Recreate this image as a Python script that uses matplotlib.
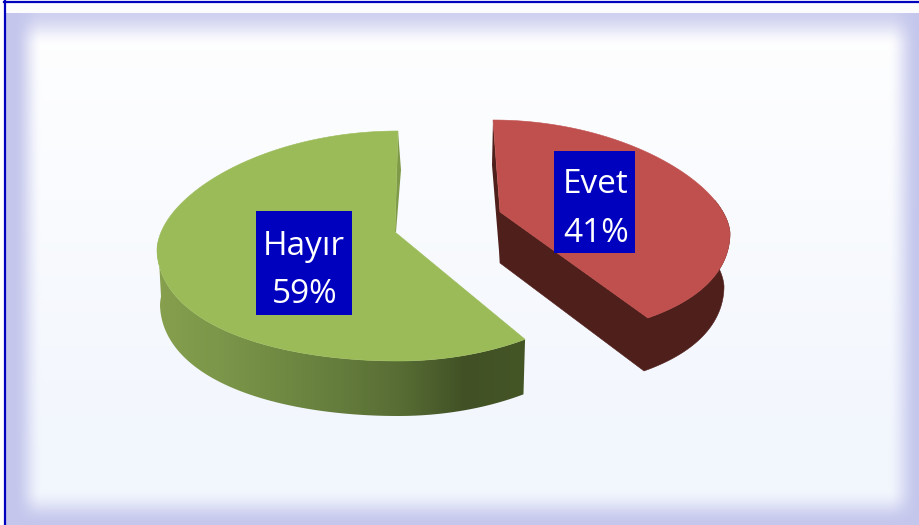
import numpy as np
import matplotlib
matplotlib.use("Agg")
import matplotlib.pyplot as plt
from matplotlib.colors import LinearSegmentedColormap
from matplotlib.patches import Polygon, Rectangle

# ==========================================
# DATA
# ==========================================
categories = ["Evet", "Hayır"]
percent = [41, 59]

# ==========================================
# COLORS
# ==========================================
RED_TOP = "#c0504d"
RED_SIDE = "#4f1f1c"
GREEN_TOP = "#9bbb59"
GREEN_EDGE = "#7e9a48"
LABEL_BLUE = "#0000bf"
green_side = ["#86a04e", "#7c964a", "#708a43", "#647c3c", "#576c34", "#415125", "#445526"]

plt.rcParams["font.family"] = ["Open Sans", "DejaVu Sans"]

fig = plt.figure(figsize=(9.19, 5.25), dpi=100)
ax = fig.add_axes([0, 0, 1, 1])

# ==========================================
# BACKGROUND (soft lavender edge)
# ==========================================
W, H = 919, 525
xx, yy = np.meshgrid(np.arange(W) + 0.5, np.arange(H) + 0.5)


def ramp(v):
    v = np.clip(v, 0, 1)
    return v * v * (3 - 2 * v)


a_left = 1 - ramp((xx - 14) / 28)
a_top = 0.8 * (1 - ramp((yy - 13) / 33))
a_right = ramp((xx - 888) / 31)
a_bottom = ramp((yy - 490) / 35)
alpha = 1 - (1 - a_left) * (1 - a_top) * (1 - a_right) * (1 - a_bottom)

inner = np.zeros((H, W, 3))
inner[..., 0] = 255 - 13 * np.clip(yy / 450, 0, 1)
inner[..., 1] = 255 - 9 * np.clip(yy / 450, 0, 1)
inner[..., 2] = 255 - 2 * np.clip(yy / 450, 0, 1)
edge = np.array([196, 198, 236.0])
bg = inner * (1 - alpha[..., None]) + edge * alpha[..., None]
bg[:13] = [252, 252, 255]
bg[:, :5] = [255, 255, 255]
ax.imshow(bg / 255, extent=(0, W, H, 0), aspect="auto", zorder=0)
ax.plot([4.5, 4.5], [1, 525], color=LABEL_BLUE, lw=1.6, zorder=1)
ax.plot([4, 919], [1.5, 1.5], color=LABEL_BLUE, lw=1.6, zorder=1)


# ==========================================
# PIE SHAPE
# ==========================================
def rim(angles, g):
    t = np.radians(angles)
    c, s = np.cos(t), np.sin(t)
    low_right = (s < 0) & (c > 0)
    t2 = np.where(low_right, t * g["warp"], t)
    c, s = np.cos(t2), np.sin(t2)
    ry = np.where(s > 0, g["up"], g["low"])
    skew = np.where(s > 0, g["sk_up"], g["sk_low"])
    tilt = np.where(c < 0, g["tilt_left"] * -c, g["tilt_right"] * c) * np.abs(c)
    x = g["cx"] + g["rx"] * c + skew * s
    y = g["cy"] - ry * s + tilt
    return x, y, c


hayir_geo = dict(cx=395, cy=232, rx=238, up=101, low=129, sk_up=3, sk_low=-3,
                 tilt_left=18, tilt_right=-5.5, warp=1.0)
evet_geo = dict(cx=500, cy=212, rx=230, up=92, low=127, sk_up=-7, sk_low=0,
                tilt_left=0, tilt_right=21, warp=0.868)

# angles come from the percent values, split starts at 12 o'clock
split = 90 - percent[0] / sum(percent) * 360
evet_t = np.linspace(split, 90, 160)
hayir_t = np.linspace(90, split + 360, 220)

DEPTH = 54

# ==========================================
# HAYIR SLICE
# ==========================================
hx, hy, hc = rim(hayir_t, hayir_geo)
side = hayir_t >= 175
sx, sy, sc = hx[side], hy[side], hc[side]
side_poly = np.r_[np.c_[sx, sy], np.c_[sx - 3 * sc, sy + DEPTH + 1][::-1]]
clip = Polygon(side_poly, closed=True, transform=ax.transData, fc="none", ec="none")
ax.add_patch(clip)
cmap = LinearSegmentedColormap.from_list("side", green_side)
grad = ax.imshow(np.linspace(0, 1, 256)[None, :], extent=(157, 526, 430, 240), cmap=cmap,
                 aspect="auto", zorder=2)
grad.set_clip_path(clip)

ax.add_patch(Polygon([(hx[0], hy[0]), (hx[0] + 3, 170), (hayir_geo["cx"] + 1, hayir_geo["cy"]),
                      (hayir_geo["cx"], hayir_geo["cy"])], fc=GREEN_EDGE, ec="none", zorder=2.5))
ax.add_patch(Polygon(np.r_[[(hayir_geo["cx"], hayir_geo["cy"])], np.c_[hx, hy]], fc=GREEN_TOP,
                     ec=GREEN_TOP, lw=0.4, zorder=3))

# ==========================================
# EVET SLICE
# ==========================================
ex, ey, ec_ = rim(evet_t, evet_geo)
ax_, ay_ = evet_geo["cx"], evet_geo["cy"]
front = evet_t < 20
red_side = np.r_[[(ax_, ay_)], np.c_[ex[front], ey[front]],
                 np.c_[ex[front] - 6 * ec_[front], ey[front] + DEPTH - 1][::-1],
                 [(ax_, ay_ + 51)]]
ax.add_patch(Polygon(red_side, fc=RED_SIDE, ec=RED_SIDE, lw=0.4, zorder=2))
ax.add_patch(Polygon([(ex[-1], ey[-1]), (ex[-1] - 1, 165), (ax_, ay_ + 51), (ax_, ay_)],
                     fc=RED_SIDE, ec="none", zorder=2))
ax.add_patch(Polygon(np.r_[[(ax_, ay_)], np.c_[ex, ey]], fc=RED_TOP, ec=RED_TOP, lw=0.4, zorder=3))

# ==========================================
# LABELS
# ==========================================
ax.add_patch(Rectangle((554, 151), 81, 102, fc=LABEL_BLUE, ec="none", zorder=4))
ax.add_patch(Rectangle((256, 211), 96, 104, fc=LABEL_BLUE, ec="none", zorder=4))
ax.text(596, 193, categories[0], color="white", fontsize=24, ha="center", va="baseline", zorder=5)
ax.text(596, 242, f"{percent[0]}%", color="white", fontsize=24, ha="center", va="baseline", zorder=5)
ax.text(304, 255, categories[1], color="white", fontsize=24, ha="center", va="baseline", zorder=5)
ax.text(305, 303, f"{percent[1]}%", color="white", fontsize=24, ha="center", va="baseline", zorder=5)

ax.set_xlim(0, W)
ax.set_ylim(H, 0)
ax.axis("off")
fig.savefig("out.png", dpi=100)
